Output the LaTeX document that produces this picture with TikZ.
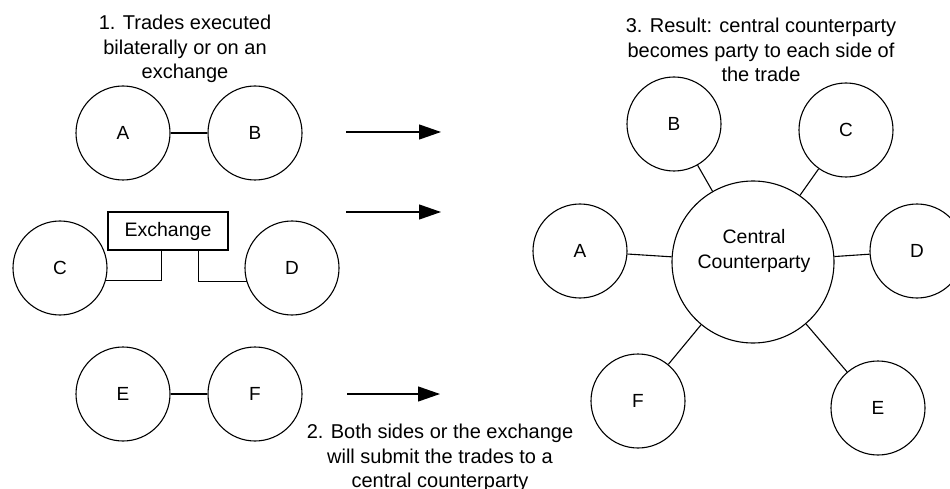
\documentclass[tikz,border=0pt]{standalone}
\usepackage{fontspec}
\setmainfont{Liberation Sans}
\usetikzlibrary{arrows.meta}
\begin{document}
\begin{tikzpicture}[x=1pt,y=-1pt,
  party/.style={draw,circle,line width=1.1pt,minimum size=94pt,inner sep=0pt,font=\fontsize{19}{23}\selectfont},
  ccp/.style={draw,circle,line width=1.1pt,minimum size=162pt,inner sep=0pt},
  exbox/.style={draw,rectangle,line width=1.1pt,minimum width=120pt,minimum height=38pt,inner sep=0pt,font=\fontsize{19.5}{23}\selectfont},
  caption/.style={align=center,inner sep=0pt,font=\fontsize{20}{24.5}\selectfont},
  conn/.style={line width=1.1pt},
  flow/.style={line width=1.2pt,-{Triangle[length=22pt,width=15pt]}}]
\useasboundingbox (0,0) rectangle (950,489);
\begin{scope}
\clip (0,0) rectangle (950,489);
% left column
\node[caption] (t1) at (185,49) {1. Trades executed\\bilaterally or on an\\exchange};
\node[party] (A1) at (123,133) {A};
\node[party] (B1) at (255,133) {B};
\draw[conn] (A1) -- (B1);
\node[party] (C1) at (60,268) {C};
\node[party] (D1) at (292,268) {D};
\node[exbox] (ex) at (168,231) {Exchange};
\draw[conn] (C1.-15) -| ([xshift=54pt]ex.south west);
\draw[conn] ([xshift=91pt]ex.south west) |- (D1.197);
\node[party] (E1) at (123,394) {E};
\node[party] (F1) at (255,394) {F};
\draw[conn] (E1) -- (F1);
% arrows
\coordinate (a1s) at (346,132); \coordinate (a1e) at (441,132);
\coordinate (a2s) at (346,212); \coordinate (a2e) at (441,212);
\coordinate (a3s) at (347,394); \coordinate (a3e) at (440,394);
\draw[flow] (a1s) -- (a1e);
\draw[flow] (a2s) -- (a2e);
\draw[flow] (a3s) -- (a3e);
\node[caption] (t2) at (440,458) {2. Both sides or the exchange\\will submit the trades to a\\central counterparty};
% right
\node[caption] (t3) at (761,50) {3. Result: central counterparty\\becomes party to each side of\\the trade};
\node[ccp] (CCP) at (753,262) {};
\node[caption,font=\fontsize{19.5}{24.5}\selectfont] (ccplabel) at (754,251) {Central\\Counterparty};
\node[party] (A2) at (580,251) {A};
\node[party] (B2) at (674,124) {B};
\node[party] (C2) at (846,130) {C};
\node[party] (D2) at (917,251) {D};
\node[party] (F2) at (638,401) {F};
\node[party] (E2) at (878,408) {E};
\draw[conn] (A2) -- (CCP);
\draw[conn] (B2) -- (CCP);
\draw[conn] (C2) -- (CCP);
\draw[conn] (D2) -- (CCP);
\draw[conn] (F2) -- (CCP);
\draw[conn] (E2) -- (CCP);
\end{scope}
\end{tikzpicture}
\end{document}
